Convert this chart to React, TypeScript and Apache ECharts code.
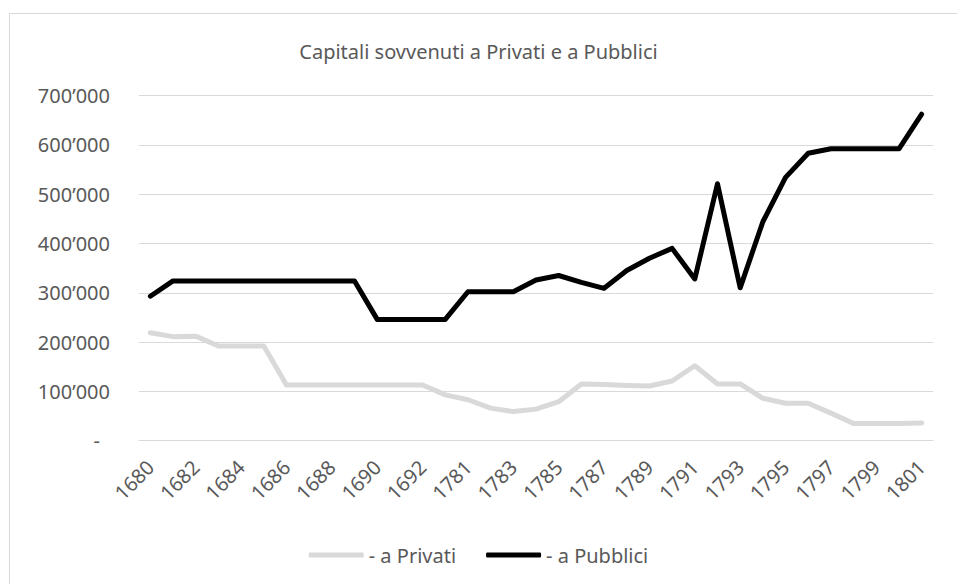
import React, { useEffect, useRef } from "react";
import * as echarts from "echarts";

const categories = [
  "1680", "1681", "1682", "1683", "1684", "1685", "1686", "1687", "1688", "1689",
  "1690", "1691", "1692", "1693", "1781", "1782", "1783", "1784", "1785", "1786",
  "1787", "1788", "1789", "1790", "1791", "1792", "1793", "1794", "1795", "1796",
  "1797", "1798", "1799", "1800", "1801",
];

const privati = [
  219000, 211000, 212000, 192000, 192000, 192000, 113000, 113000, 113000, 113000,
  113000, 113000, 113000, 93000, 83000, 66000, 59000, 64000, 79000, 115000,
  114000, 112000, 111000, 121000, 152000, 115000, 115000, 86000, 76000, 76000,
  56000, 35000, 35000, 35000, 36000,
];

const pubblici = [
  293000, 324000, 324000, 324000, 324000, 324000, 324000, 324000, 324000, 324000,
  246000, 246000, 246000, 246000, 302000, 302000, 302000, 326000, 335000, 321000,
  309000, 345000, 370000, 390000, 328000, 521000, 310000, 444000, 534000, 583000,
  592000, 592000, 592000, 592000, 662000,
];

const seriesNames = ["- a Privati", "- a Pubblici"];
const titleText = "Capitali sovvenuti a Privati e a Pubblici";

const FONT = "Noto Sans";
const TEXT = "#595959";

export default function App() {
  const ref = useRef<HTMLDivElement>(null);
  useEffect(() => {
    if (!ref.current) return;
    const chart = echarts.init(ref.current, undefined, { renderer: "svg" });
    chart.setOption({
      animation: false,
      backgroundColor: "#ffffff",
      title: {
        text: titleText,
        left: "center",
        top: 36,
        textStyle: { fontFamily: FONT, fontSize: 20, fontWeight: "normal", color: TEXT },
      },
      graphic: [
        {
          type: "rect",
          shape: { x: 9.5, y: 13.5, width: 1000, height: 1000 },
          style: { fill: "none", stroke: "#d9d9d9", lineWidth: 1 },
          silent: true,
        },
      ],
      legend: {
        data: seriesNames.map((n) => ({ name: n, icon: "roundRect" })),
        left: "center",
        top: 540,
        itemWidth: 55,
        itemHeight: 5,
        itemGap: 30,
        textStyle: { fontFamily: FONT, fontSize: 20, color: TEXT },
      },
      grid: { left: 139, right: 24, top: 95.5, bottom: 143.3, containLabel: false },
      xAxis: {
        type: "category",
        data: categories,
        boundaryGap: true,
        axisLine: { lineStyle: { color: "#d9d9d9", width: 1 } },
        axisTick: { show: false },
        axisLabel: {
          interval: 1,
          rotate: 45,
          margin: 23,
          fontFamily: FONT,
          fontSize: 20,
          color: TEXT,
        },
      },
      yAxis: {
        type: "value",
        min: 0,
        max: 700000,
        interval: 100000,
        axisLine: { show: false },
        axisTick: { show: false },
        splitLine: { lineStyle: { color: "#d9d9d9", width: 1 } },
        axisLabel: {
          margin: 29,
          fontFamily: FONT,
          fontSize: 20,
          color: TEXT,
          formatter: (v: number) => (v === 0 ? "{d|-}" : `${v / 1000}\u2019000`),
          rich: {
            d: { fontFamily: FONT, fontSize: 20, color: TEXT, padding: [0, 10, 0, 0] },
          },
        },
      },
      series: [
        {
          name: seriesNames[0],
          type: "line",
          data: privati,
          symbol: "none",
          lineStyle: { color: "#d9d9d9", width: 5, cap: "round", join: "round" },
          itemStyle: { color: "#d9d9d9" },
        },
        {
          name: seriesNames[1],
          type: "line",
          data: pubblici,
          symbol: "none",
          lineStyle: { color: "#000000", width: 5, cap: "round", join: "round" },
          itemStyle: { color: "#000000" },
        },
      ],
    });
    return () => chart.dispose();
  }, []);
  return (
    <div
      ref={ref}
      style={{ position: "absolute", left: 0, top: 0, width: 957, height: 584 }}
    />
  );
}
